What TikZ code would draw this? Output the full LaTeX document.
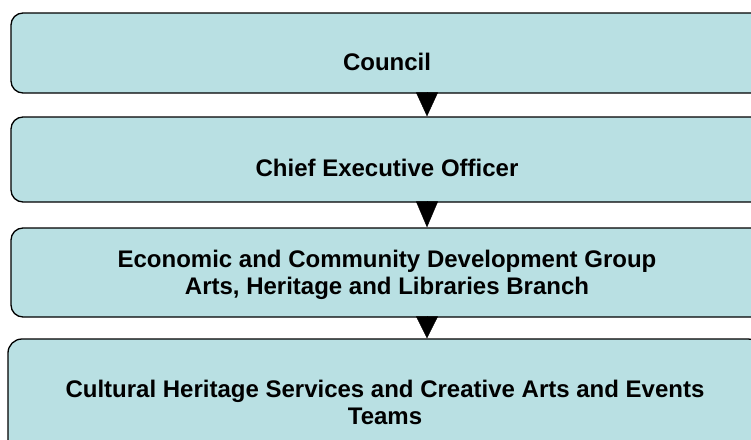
\documentclass[tikz,border=0pt]{standalone}
\usepackage{fontspec}
\setmainfont{Liberation Sans}
\usetikzlibrary{arrows.meta}
\definecolor{boxfill}{RGB}{185,224,227}
\tikzset{
  box/.style={draw=black, line width=1.3pt, fill=boxfill, rounded corners=12pt, inner sep=0pt},
  txt/.style={font=\fontsize{24}{27}\selectfont\bfseries, align=center, inner sep=0pt, text=black},
  arr/.style={draw=black, line width=0.4pt, -{Triangle[width=22pt,length=#1]}}
}
\begin{document}
\begin{tikzpicture}[x=1pt,y=-1pt]
\useasboundingbox (0,0) rectangle (751,439);
\clip (0,0) rectangle (751,439);
\node[box, minimum width=752pt, minimum height=80pt] (b1) at (387,53) {};
\node[box, minimum width=752pt, minimum height=85pt] (b2) at (387,159.5) {};
\node[box, minimum width=752pt, minimum height=89pt] (b3) at (387,272.5) {};
\node[box, rounded corners=14pt, minimum width=754pt, minimum height=127pt] (b4) at (385,402.5) {};
\node[txt] (t1) at (387,62) {Council};
\node[txt] (t2) at (387,168) {Chief Executive Officer};
\node[txt] (t3) at (387,275) {Economic and Community Development Group\\Arts, Heritage and Libraries Branch};
\node[txt] (t4) at (385,402.5) {Cultural Heritage Services and Creative Arts and Events\\Teams};
\coordinate (ax) at (427,0);
\draw[arr=24pt] (b1.south -| ax) -- (b2.north -| ax);
\draw[arr=26pt] (b2.south -| ax) -- (b3.north -| ax);
\draw[arr=22pt] (b3.south -| ax) -- (b4.north -| ax);
\end{tikzpicture}
\end{document}
